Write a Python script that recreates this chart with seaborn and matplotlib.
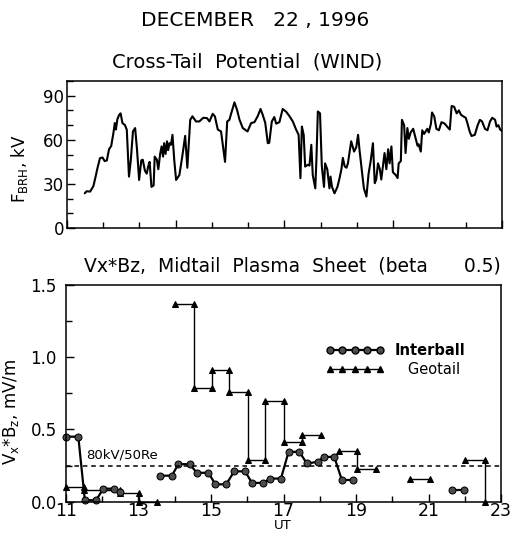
import numpy as np
import pandas as pd
import seaborn as sns
import matplotlib.pyplot as plt
from matplotlib.lines import Line2D
from matplotlib.ticker import MultipleLocator, FixedLocator, NullFormatter

# --- Cross-tail potential (WIND), kV ---
UT_WIND = [11.49, 11.54, 11.64, 11.73, 11.79, 11.84, 11.91, 11.98, 12.04, 12.10,
           12.16, 12.22, 12.28, 12.32, 12.35, 12.39, 12.44, 12.48, 12.53, 12.60,
           12.65, 12.71, 12.76, 12.82, 12.88, 12.93, 12.99, 13.05, 13.09, 13.15,
           13.20, 13.24, 13.28, 13.33, 13.39, 13.42, 13.48, 13.52, 13.57, 13.61,
           13.65, 13.68, 13.72, 13.76, 13.79, 13.83, 13.87, 13.91, 13.96, 14.01,
           14.10, 14.18, 14.26, 14.32, 14.40, 14.46, 14.56, 14.65, 14.76, 14.86,
           14.93, 15.02, 15.08, 15.16, 15.25, 15.36, 15.42, 15.48, 15.53, 15.62,
           15.69, 15.76, 15.85, 15.98, 16.08, 16.17, 16.26, 16.34, 16.40, 16.47,
           16.54, 16.58, 16.65, 16.72, 16.77, 16.86, 16.95, 17.05, 17.14, 17.23,
           17.32, 17.39, 17.44, 17.48, 17.53, 17.57, 17.64, 17.69, 17.74, 17.78,
           17.85, 17.88, 17.92, 17.98, 18.03, 18.09, 18.12, 18.18, 18.24, 18.27,
           18.31, 18.38, 18.46, 18.52, 18.57, 18.61, 18.66, 18.71, 18.75, 18.84,
           18.92, 18.98, 19.03, 19.07, 19.12, 19.19, 19.26, 19.32, 19.38, 19.44,
           19.49, 19.53, 19.58, 19.63, 19.67, 19.72, 19.76, 19.81, 19.86, 19.90,
           19.95, 19.99, 20.07, 20.12, 20.15, 20.21, 20.24, 20.30, 20.34, 20.39,
           20.43, 20.48, 20.55, 20.61, 20.67, 20.70, 20.76, 20.80, 20.85, 20.89,
           20.94, 20.98, 21.04, 21.07, 21.13, 21.19, 21.26, 21.33, 21.42, 21.50,
           21.56, 21.61, 21.68, 21.75, 21.81, 21.87, 21.93, 22.00, 22.05, 22.11,
           22.16, 22.25, 22.33, 22.39, 22.45, 22.53, 22.60, 22.67, 22.73, 22.81,
           22.85, 22.90, 22.95, 23.00]
PHI_WIND = [23.6, 25, 24.8, 28.6, 35, 40.7, 47.5, 48, 45.5, 46,
            53.6, 55.8, 64.5, 71.4, 67, 74, 77, 78, 71.4, 70,
            66.8, 35, 46, 65.7, 68, 54, 32.7, 46, 46.5, 39,
            37, 41.8, 45, 28, 29, 48.6, 46.5, 40, 50.4, 55.5,
            48.6, 57.7, 50.4, 59, 53, 57.7, 56.6, 63.4, 46, 32.7,
            36, 48.6, 62.7, 41, 73.6, 76, 72.5, 72.5, 75, 74.8,
            72.5, 77.7, 76, 67, 65.7, 45, 72.5, 73.6, 78, 85.5,
            80.5, 73.6, 68, 65.7, 71.4, 72, 76, 81, 77, 71.4,
            57.7, 58, 72.5, 75.5, 71, 72, 81, 79, 76, 72.5,
            67, 63.4, 33.9, 69, 63.4, 41.8, 43, 42.5, 56.6, 36,
            27, 46, 79.3, 78, 42, 28, 44, 40, 27, 35,
            28, 23.6, 28, 34, 40, 47.7, 42, 41, 44, 59,
            52, 55, 63.4, 53, 42, 27, 21.4, 37, 46, 57.7,
            30.5, 33, 44, 40, 33, 43, 51, 40, 53.6, 44,
            55.5, 38, 36, 34, 44, 45.5, 73.6, 70, 51, 68,
            60.7, 65, 67.5, 61.8, 56, 57, 52, 66.5, 64, 65.5,
            67.5, 65, 71, 78.6, 76, 67.5, 66.5, 72, 71, 68.6,
            67, 83, 82.5, 78, 80, 77, 76, 75, 71, 65.5,
            62.6, 63.4, 70, 73.6, 72.5, 67.5, 66.5, 72.5, 75, 73.6,
            69, 70, 67, 66]

# --- Vx*Bz, Interball (segments split by IB_SEG) ---
IB_UT = [11.0, 11.34, 11.52, 11.83, 12.03, 12.33, 12.5,
         13.58, 13.92, 14.10, 14.41, 14.61, 14.93, 15.12, 15.42, 15.64, 15.94,
         16.13, 16.43, 16.64, 16.93, 17.14, 17.44, 17.64, 17.94, 18.11, 18.40,
         18.61, 18.92,
         21.65, 21.97]
IB_V = [0.45, 0.45, 0.01, 0.01, 0.09, 0.09, 0.065,
        0.18, 0.18, 0.26, 0.26, 0.20, 0.20, 0.12, 0.12, 0.21, 0.21,
        0.13, 0.13, 0.16, 0.16, 0.345, 0.345, 0.265, 0.275, 0.31, 0.31,
        0.15, 0.15,
        0.08, 0.08]
IB_SEG = [0] * 7 + [1] * 22 + [2] * 2

# --- Vx*Bz, Geotail (step segments) ---
GT_UT = [11.0, 11.5, 11.5, 12.5, 12.5, 13.02, 13.02, 13.5,
         14.0, 14.52, 14.52, 15.02, 15.02, 15.5, 15.5, 16.02, 16.02, 16.5,
         16.5, 17.0, 17.0, 17.5, 17.5, 18.03,
         18.52, 19.03, 19.03, 19.54,
         20.5, 21.04,
         22.02, 22.55, 22.55]
GT_V = [0.10, 0.10, 0.08, 0.08, 0.06, 0.06, 0.0, 0.0,
        1.37, 1.37, 0.79, 0.79, 0.91, 0.91, 0.76, 0.76, 0.29, 0.29,
        0.70, 0.70, 0.41, 0.41, 0.46, 0.46,
        0.35, 0.35, 0.225, 0.225,
        0.156, 0.156,
        0.29, 0.29, 0.0]
GT_SEG = [0] * 8 + [1] * 16 + [2] * 4 + [3] * 2 + [4] * 3

THRESHOLD = 0.25  # 80kV/50Re

sns.set_style("ticks")
plt.rcParams["font.family"] = ["DejaVu Sans"]
plt.rcParams["mathtext.default"] = "regular"
plt.rcParams["axes.linewidth"] = 1.1
for key in ("text.color", "axes.labelcolor", "xtick.color", "ytick.color",
            "axes.edgecolor"):
    plt.rcParams[key] = "black"

wind = pd.DataFrame({"ut": UT_WIND, "phi": PHI_WIND})
ib = pd.DataFrame({"ut": IB_UT, "v": IB_V, "seg": IB_SEG})
gt = pd.DataFrame({"ut": GT_UT, "v": GT_V, "seg": GT_SEG})

fig = plt.figure(figsize=(5.18, 5.42), dpi=100)
ax1 = fig.add_axes([0.1293, 0.5793, 0.8398, 0.2712])
ax2 = fig.add_axes([0.1274, 0.0744, 0.8398, 0.3998])

# painel superior
sns.lineplot(data=wind, x="ut", y="phi", ax=ax1, color="black", lw=1.5,
             estimator=None, sort=False)
ax1.set_xlim(11, 23)
ax1.set_ylim(0, 100)
ax1.xaxis.set_major_locator(FixedLocator([11, 14, 17, 20, 23]))
ax1.xaxis.set_minor_locator(MultipleLocator(1))
ax1.xaxis.set_major_formatter(NullFormatter())
ax1.yaxis.set_major_locator(FixedLocator([0, 30, 60, 90]))
ax1.yaxis.set_minor_locator(MultipleLocator(10))
ax1.set_xlabel("")
ax1.set_ylabel(r"F$_{\mathrm{BRH}}$, kV", fontsize=12)
ax1.yaxis.set_label_coords(-0.085, 0.40)

# painel inferior
sns.lineplot(data=gt, x="ut", y="v", units="seg", ax=ax2, color="black",
             lw=1.0, marker="^", ms=4, mfc="black", mec="black",
             estimator=None, sort=False, clip_on=False)
sns.lineplot(data=ib, x="ut", y="v", units="seg", ax=ax2, color="black",
             lw=1.6, marker="o", ms=5, mfc="0.3", mec="black",
             estimator=None, sort=False, clip_on=False)
ax2.axhline(THRESHOLD, color="black", lw=1.1, ls=(0, (3, 2.5)))
ax2.text(11.55, 0.32, "80kV/50Re", fontsize=9.5, ha="left", va="center")
ax2.set_xlim(11, 23)
ax2.set_ylim(0, 1.5)
ax2.set_xticks(range(11, 24, 2))
ax2.xaxis.set_minor_locator(MultipleLocator(1))
ax2.yaxis.set_major_locator(MultipleLocator(0.5))
ax2.yaxis.set_minor_locator(MultipleLocator(0.25))
ax2.set_xlabel("")
ax2.set_ylabel(r"V$_x$*B$_z$, mV/m", fontsize=12)
ax2.yaxis.set_label_coords(-0.103, 0.415)

handles = [
    Line2D([], [], color="black", lw=1.6, marker="o", ms=5, mfc="0.3", mec="black"),
    Line2D([], [], color="black", lw=1.0, marker="^", ms=4, mfc="black", mec="black"),
]
leg = ax2.legend(handles, ["Interball", "   Geotail"], loc="upper left",
                 bbox_to_anchor=(0.58, 0.765), frameon=False, numpoints=5,
                 handlelength=4.0, handletextpad=0.7, labelspacing=0.25,
                 borderpad=0, fontsize=10.5)
leg.get_texts()[0].set_fontweight("bold")

for ax in (ax1, ax2):
    for s in ax.spines.values():
        s.set_visible(True)
        s.set_color("black")
    ax.tick_params(which="major", direction="in", length=6, width=1.0,
                   labelsize=12, top=False, right=False, pad=2)
    ax.tick_params(which="minor", direction="in", length=4, width=1.0,
                   top=False, right=False)
ax2.tick_params(axis="x", labelsize=12.5, pad=0)
ax2.tick_params(axis="y", pad=6.5)

fig.text(0.492, 0.963, "DECEMBER   22 , 1996", ha="center", va="center", fontsize=14.5)
fig.text(0.477, 0.886, "Cross-Tail  Potential  (WIND)", ha="center", va="center", fontsize=14)
fig.text(0.564, 0.509, "Vx*Bz,  Midtail  Plasma  Sheet  (beta      0.5)",
         ha="center", va="center", fontsize=13.5)
fig.text(0.546, 0.030, "UT", ha="center", va="center", fontsize=9.5)

fig.savefig("out.png", dpi=100)
